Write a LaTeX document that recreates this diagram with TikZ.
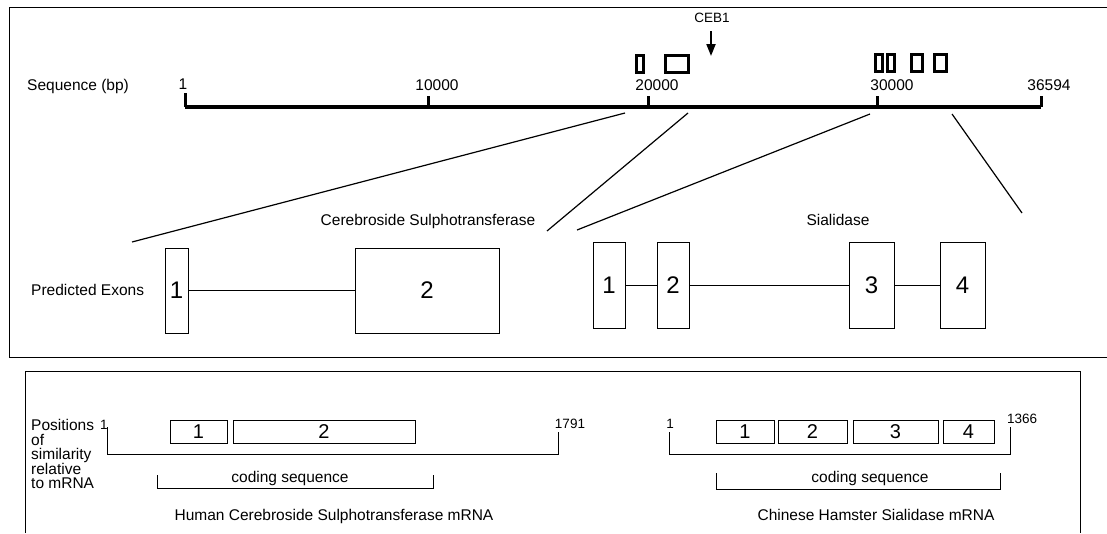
\documentclass[tikz,border=0pt]{standalone}
\usepackage{fontspec}
\setmainfont{Liberation Sans}
\usetikzlibrary{arrows.meta}
\begin{document}
\begin{tikzpicture}[x=1pt,y=-1pt,
  lbl/.style={font=\fontsize{15.5}{18}\selectfont, inner sep=0pt, anchor=base},
  lblw/.style={lbl, anchor=base west},
  smalllbl/.style={font=\fontsize{13.5}{15}\selectfont, inner sep=0pt, anchor=base},
  ceb/.style={font=\fontsize{13.5}{15}\selectfont, inner sep=0pt, anchor=base},
  exon/.style={draw, line width=0.9pt, inner sep=0pt, font=\fontsize{24}{28}\selectfont},
  mbox/.style={draw, line width=0.9pt, inner sep=0pt, minimum height=23pt, font=\fontsize{20}{24}\selectfont},
  thinline/.style={line width=0.9pt},
  diag/.style={line width=1.2pt},
  axisline/.style={line width=4.3pt},
  tickline/.style={line width=3pt},
  hitbox/.style={line width=2.8pt},
  frameline/.style={line width=0.9pt}
]
\useasboundingbox (0,0) rectangle (1107,533);

% frames
\draw[frameline] (1107,7) -- (9,7) -- (9,357) -- (1107,357);
\draw[frameline] (25,533) -- (25,371) -- (1080,371) -- (1080,533);

% sequence axis
\coordinate (a0) at (185,107);
\coordinate (a1) at (428,107);
\coordinate (a2) at (648,107);
\coordinate (a3) at (877,107);
\coordinate (a4) at (1041,107);
\draw[axisline] (a0) -- (a4);
\draw[tickline] (185,93) -- (a0);
\draw[tickline] (428,96) -- (a1);
\draw[tickline] (648,96) -- (a2);
\draw[tickline] (877,96) -- (a3);
\draw[tickline] (1041,96) -- (a4);

\node[lblw] (seqlbl) at (27,90.5) {Sequence (bp)};
\node[lbl] (n1) at (183,89.5) {1};
\node[lbl] (n10000) at (437,90.5) {10000};
\node[lbl] (n20000) at (657,90.5) {20000};
\node[lbl] (n30000) at (892,90.5) {30000};
\node[lbl] (n36594) at (1049,90.5) {36594};

% CEB1
\node[ceb] (ceb) at (712,22.5) {CEB1};
\coordinate (cebtop) at (711,31);
\coordinate (cebbot) at (711,56);
\draw[line width=2pt, -{Triangle[width=9pt,length=12pt]}] (cebtop) -- (cebbot);

% similarity hits
\draw[hitbox] (636.4,55.4) rectangle (643.6,72.6);
\draw[hitbox] (665.4,55.4) rectangle (688.6,72.6);
\draw[hitbox] (875.4,54.4) rectangle (882.6,71.6);
\draw[hitbox] (887.4,54.4) rectangle (894.6,71.6);
\draw[hitbox] (911.4,54.4) rectangle (922.6,71.6);
\draw[hitbox] (934.4,54.4) rectangle (946.6,71.6);

% zoom lines
\coordinate (l1a) at (625,113);
\coordinate (l1b) at (132,242);
\coordinate (l2a) at (688,113);
\coordinate (l2b) at (547,231);
\coordinate (l3a) at (870,114);
\coordinate (l3b) at (577,230);
\coordinate (l4a) at (952,114);
\coordinate (l4b) at (1022,213);
\draw[diag] (l1a) -- (l1b);
\draw[diag] (l2a) -- (l2b);
\draw[diag] (l3a) -- (l3b);
\draw[diag] (l4a) -- (l4b);

% gene labels
\node[lbl] (cstlbl) at (428,225.5) {Cerebroside Sulphotransferase};
\node[lbl] (sialbl) at (838,225.5) {Sialidase};
\node[lblw] (predlbl) at (31,295.5) {Predicted Exons};

% cerebroside exons
\node[exon, minimum width=23pt, minimum height=85pt] (c1) at (176.5,290.5) {1};
\node[exon, minimum width=144pt, minimum height=85pt] (c2) at (427,290.5) {2};
\draw[thinline] (c1.east) -- (c2.west);

% sialidase exons
\node[exon, minimum width=32pt, minimum height=86pt] (s1) at (609,285) {1};
\node[exon, minimum width=32pt, minimum height=86pt] (s2) at (673,285) {2};
\node[exon, minimum width=45pt, minimum height=86pt] (s3) at (871.5,285) {3};
\node[exon, minimum width=45pt, minimum height=86pt] (s4) at (962.5,285) {4};
\draw[thinline] (s1.east) -- (s2.west);
\draw[thinline] (s2.east) -- (s3.west);
\draw[thinline] (s3.east) -- (s4.west);

% lower panel labels
\node[lblw] (pos1) at (31,430.5) {Positions};
\node[lblw] (pos2) at (31,445) {of};
\node[lblw] (pos3) at (31,459.5) {similarity};
\node[lblw] (pos4) at (31,474) {relative};
\node[lblw] (pos5) at (31,488.5) {to mRNA};

% human CST mRNA
\node[smalllbl] (h1) at (104,429.5) {1};
\node[smalllbl] (h1791) at (570,428) {1791};
\coordinate (hb1) at (107,427);
\coordinate (hb2) at (107,454);
\coordinate (hb3) at (558,454);
\coordinate (hb4) at (558,432);
\draw[thinline] (hb1) -- (hb2) -- (hb3) -- (hb4);
\node[mbox, minimum width=57pt] (hm1) at (198.5,431.5) {1};
\node[mbox, minimum width=182pt] (hm2) at (324,431.5) {2};
\coordinate (hc1) at (157,475);
\coordinate (hc2) at (157,488);
\coordinate (hc3) at (433,488);
\coordinate (hc4) at (433,475);
\draw[thinline] (hc1) -- (hc2) -- (hc3) -- (hc4);
\node[lbl] (hcod) at (290,482.5) {coding sequence};
\node[lbl] (hname) at (334,520.5) {Human Cerebroside Sulphotransferase mRNA};

% hamster sialidase mRNA
\node[smalllbl] (c1lbl) at (670,428) {1};
\node[smalllbl] (c1366) at (1022,423) {1366};
\coordinate (cb1) at (669,432);
\coordinate (cb2) at (669,454);
\coordinate (cb3) at (1010,454);
\coordinate (cb4) at (1010,427);
\draw[thinline] (cb1) -- (cb2) -- (cb3) -- (cb4);
\node[mbox, minimum width=58pt] (cm1) at (745,431.5) {1};
\node[mbox, minimum width=69pt] (cm2) at (812.5,431.5) {2};
\node[mbox, minimum width=85pt] (cm3) at (895.5,431.5) {3};
\node[mbox, minimum width=51pt] (cm4) at (968.5,431.5) {4};
\coordinate (cc1) at (716,473);
\coordinate (cc2) at (716,489);
\coordinate (cc3) at (1000,489);
\coordinate (cc4) at (1000,473);
\draw[thinline] (cc1) -- (cc2) -- (cc3) -- (cc4);
\node[lbl] (ccod) at (870,482.5) {coding sequence};
\node[lbl] (cname) at (876,520.5) {Chinese Hamster Sialidase mRNA};
\end{tikzpicture}
\end{document}
